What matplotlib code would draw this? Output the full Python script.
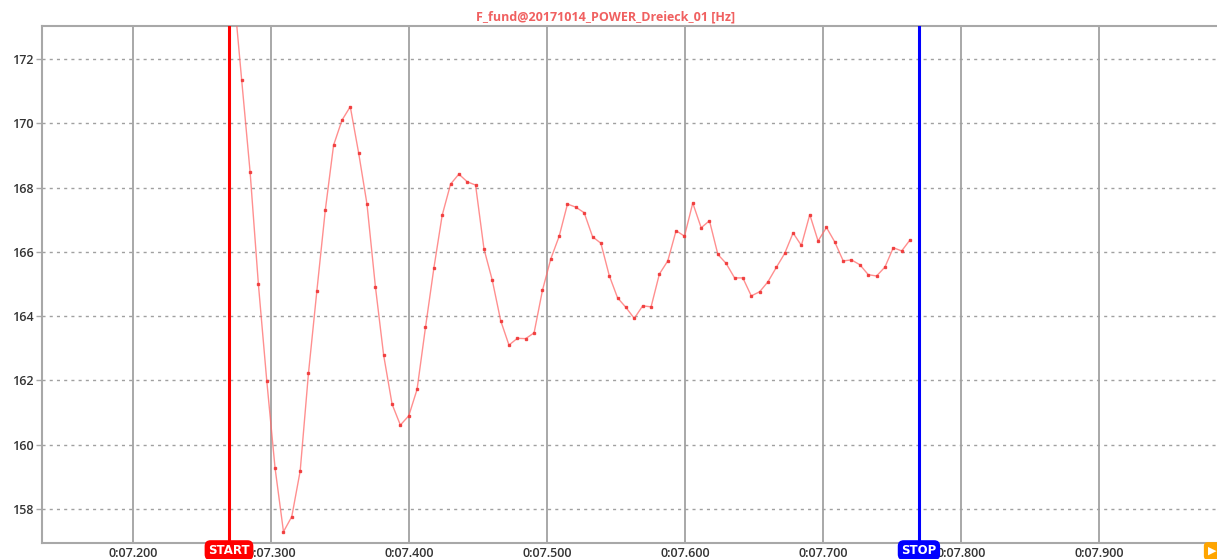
import numpy as np
import matplotlib
matplotlib.use("Agg")
from matplotlib import pyplot as plt
from matplotlib.ticker import FuncFormatter, MultipleLocator

plt.rcParams['font.family'] = ['Open Sans', 'DejaVu Sans']

title = "F_fund@20171014_POWER_Dreieck_01 [Hz]"

# time in s (one sample per period)
t = [7.2725, 7.2785, 7.2846, 7.2906, 7.2967, 7.3027, 7.3088, 7.3148, 7.3209, 7.3269,
     7.3330, 7.3391, 7.3451, 7.3512, 7.3572, 7.3633, 7.3693, 7.3754, 7.3814, 7.3875,
     7.3935, 7.3996, 7.4056, 7.4117, 7.4178, 7.4238, 7.4299, 7.4359, 7.4420, 7.4480,
     7.4541, 7.4601, 7.4662, 7.4722, 7.4783, 7.4843, 7.4904, 7.4965, 7.5025, 7.5086,
     7.5146, 7.5207, 7.5267, 7.5328, 7.5388, 7.5449, 7.5509, 7.5570, 7.5630, 7.5691,
     7.5752, 7.5812, 7.5873, 7.5933, 7.5994, 7.6054, 7.6115, 7.6175, 7.6236, 7.6296,
     7.6357, 7.6417, 7.6478, 7.6539, 7.6599, 7.6660, 7.6720, 7.6781, 7.6841, 7.6902,
     7.6962, 7.7023, 7.7083, 7.7144, 7.7204, 7.7265, 7.7326, 7.7386, 7.7447, 7.7507,
     7.7568, 7.7628]

# fundamental frequency in Hz
f_fund = [174.21, 171.35, 168.49, 165.00, 161.98, 159.27, 157.29, 157.76, 159.18, 162.22,
          164.79, 167.30, 169.32, 170.10, 170.52, 169.07, 167.49, 164.92, 162.78, 161.26,
          160.61, 160.90, 161.72, 163.65, 165.50, 167.14, 168.11, 168.42, 168.18, 168.08,
          166.09, 165.12, 163.86, 163.10, 163.31, 163.30, 163.48, 164.81, 165.78, 166.49,
          167.49, 167.39, 167.22, 166.47, 166.27, 165.26, 164.57, 164.27, 163.93, 164.32,
          164.29, 165.31, 165.72, 166.66, 166.49, 167.52, 166.75, 166.97, 165.92, 165.64,
          165.19, 165.19, 164.63, 164.76, 165.07, 165.52, 165.95, 166.59, 166.20, 167.16,
          166.34, 166.76, 166.31, 165.72, 165.75, 165.60, 165.29, 165.25, 165.53, 166.13,
          166.03, 166.37]

t_start = 7.2693
t_stop = 7.7693

fig = plt.figure(figsize=(12.17, 5.59), dpi=100)
ax = fig.add_axes([42 / 1217, 16 / 559, 1 - 42 / 1217, 517 / 559])

ax.plot(t, f_fund, color='#ff6a6a', lw=1.0, alpha=0.75, zorder=3)
ax.plot(t, f_fund, ls='none', marker='s', ms=1.7, mfc='#f03a3a', mec='#f03a3a',
        alpha=0.9, zorder=3)

ax.set_xlim(7.1338, 7.9853)
ax.set_ylim(156.94, 173.03)

ax.xaxis.set_major_locator(MultipleLocator(0.1))
ax.yaxis.set_major_locator(MultipleLocator(2))
ax.xaxis.set_major_formatter(FuncFormatter(lambda v, p: "0:%06.3f" % v))

ax.grid(axis='x', color='#a8a8a8', lw=1.4, ls='-')
ax.grid(axis='y', color='#a0a0a0', lw=1.0, ls=(0, (2.2, 3.0)))

for s in ['left', 'bottom', 'top']:
    ax.spines[s].set_color('#a8a8a8')
    ax.spines[s].set_linewidth(1.5)
ax.spines['right'].set_visible(False)

ax.tick_params(axis='x', length=0, pad=3, labelsize=9, labelcolor='#333333')
ax.tick_params(axis='y', length=4, width=1, color='#a8a8a8', pad=2,
               labelsize=9, labelcolor='#333333')
for lab in ax.get_xticklabels() + ax.get_yticklabels():
    lab.set_fontweight('semibold')

# cursors
ax.axvline(t_start, color='#ff0000', lw=2.2, zorder=4)
ax.axvline(t_stop, color='#0000ff', lw=2.2, zorder=4)
ax.text(t_start, -0.014, "START", transform=ax.get_xaxis_transform(),
        ha='center', va='center', color='white', fontsize=8.5, fontweight='bold',
        family=['DejaVu Sans'],
        bbox=dict(boxstyle='round,pad=0.3,rounding_size=0.5', fc='#ff0000', ec='none'),
        zorder=6, clip_on=False)
ax.text(t_stop, -0.014, "STOP", transform=ax.get_xaxis_transform(),
        ha='center', va='center', color='white', fontsize=8.5, fontweight='bold',
        family=['DejaVu Sans'],
        bbox=dict(boxstyle='round,pad=0.3,rounding_size=0.5', fc='#0000ff', ec='none'),
        zorder=6, clip_on=False)

# play button in the corner
fig.text(1212 / 1217, 1 - 551 / 559, "\u25b6", ha='center', va='center',
         color='white', fontsize=8, family=['DejaVu Sans'],
         bbox=dict(boxstyle='round,pad=0.35', fc='#ffa500', ec='none'))

fig.text(0.4975, 1 - 17 / 559, title, ha='center', va='center',
         color='#f06060', fontsize=9, fontweight='bold')

fig.savefig('out.png', dpi=100, facecolor='white')
